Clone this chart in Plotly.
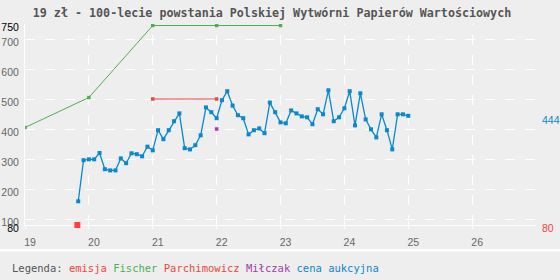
import plotly.graph_objects as go
import pandas as pd

# ---- data ----
title_text = "19 zł - 100-lecie powstania Polskiej Wytwórni Papierów Wartościowych"

emisja_x = [19.82]
emisja_y = [80]

fischer_x = [19, 20, 21, 22, 23]
fischer_y = [405, 505, 745, 745, 745]

parchimowicz_x = [21, 22]
parchimowicz_y = [500, 500]

milczak_x = [22]
milczak_y = [400]

auction_start = "2019-11"
auction_y = [159, 296, 299, 299, 320, 266, 262, 262, 302, 286,
             319, 316, 309, 341, 329, 396, 366, 396, 426, 452,
             336, 332, 346, 379, 472, 456, 436, 496, 526, 478,
             446, 436, 382, 396, 402, 386, 488, 456, 422, 419,
             462, 452, 442, 439, 416, 466, 449, 529, 426, 439,
             469, 526, 412, 519, 432, 399, 372, 449, 396, 332,
             449, 449, 444]

x_ticks = [19, 20, 21, 22, 23, 24, 25, 26]
y_ticks = [80, 100, 200, 300, 400, 500, 600, 700, 750]
y_grid = [100, 200, 300, 400, 500, 600, 700]

# month periods -> decimal (two-digit) years
months = pd.period_range(auction_start, periods=len(auction_y), freq="M")
auction_x = [(p.year - 2000) + (p.month - 1) / 12 for p in months]

C_BLUE = "#0a88cc"
C_GREEN = "#4cb050"
C_RED = "#e8483c"
C_EMI = "#ff4040"
C_PURP = "#a040a8"
BG = "#eeeeee"

fig = go.Figure()
fig.add_trace(go.Scatter(x=fischer_x, y=fischer_y, mode="lines+markers",
                         line=dict(color=C_GREEN, width=1),
                         marker=dict(symbol="square", size=3.5, color=C_GREEN)))
fig.add_trace(go.Scatter(x=parchimowicz_x, y=parchimowicz_y, mode="lines+markers",
                         line=dict(color=C_RED, width=1),
                         marker=dict(symbol="square", size=3.5, color=C_RED)))
fig.add_trace(go.Scatter(x=milczak_x, y=milczak_y, mode="markers",
                         marker=dict(symbol="square", size=3.5, color=C_PURP)))
fig.add_trace(go.Scatter(x=auction_x, y=auction_y, mode="lines+markers",
                         line=dict(color=C_BLUE, width=1.3),
                         marker=dict(symbol="square", size=4, color=C_BLUE)))
fig.add_trace(go.Scatter(x=emisja_x, y=emisja_y, mode="markers", cliponaxis=False,
                         marker=dict(symbol="square", size=6, color=C_EMI)))

tick_font = dict(family="Liberation Sans", size=10.5, color="#666666")
y_ticktext = []
for v in y_ticks:
    if v in (80, 750):
        y_ticktext.append('<span style="color:#000000">%d</span>' % v)
    else:
        y_ticktext.append(str(v))

fig.update_layout(
    width=560, height=280,
    margin=dict(l=25, r=24, t=24, b=55),
    paper_bgcolor=BG, plot_bgcolor=BG,
    showlegend=False,
    title=dict(text=title_text, xref="container", yref="container",
               x=272 / 560, y=1 - 13 / 280, xanchor="center", yanchor="middle",
               font=dict(family="DejaVu Sans Mono", size=11.7, color="#555555",
                         weight="bold")),
    xaxis=dict(range=[19, 27], tickvals=x_ticks, ticktext=[str(t) for t in x_ticks],
               automargin=False, layer="below traces",
               showgrid=True, gridcolor="white", gridwidth=1, griddash="1px,10px,9px,0px",
               showline=True, linecolor="white", linewidth=1, zeroline=False,
               ticks="outside", ticklen=3, tickcolor="white",
               ticklabelshift=5, ticklabelstandoff=4, tickfont=tick_font),
    yaxis=dict(range=[80, 750], tickvals=y_ticks, ticktext=y_ticktext,
               automargin=False, layer="below traces",
               showgrid=False, zeroline=False,
               showline=True, linecolor="white", linewidth=1,
               ticks="", ticklabelshift=3, ticklabelstandoff=3, tickfont=tick_font,
               minor=dict(tickvals=y_grid, showgrid=True, gridcolor="white",
                          gridwidth=1, griddash="10px,10px", ticks="")),
)

# right side labels
fig.add_annotation(xref="paper", yref="y", x=1, y=auction_y[-1], xanchor="left",
                   yanchor="middle", xshift=4, yshift=-4, showarrow=False,
                   text=str(auction_y[-1]),
                   font=dict(family="Liberation Sans", size=10.5, color=C_BLUE))
fig.add_annotation(xref="paper", yref="y", x=1, y=emisja_y[0], xanchor="left",
                   yanchor="middle", xshift=4, yshift=-3, showarrow=False,
                   text=str(emisja_y[0]),
                   font=dict(family="Liberation Sans", size=10.5, color=C_EMI))

# separator line
fig.add_shape(type="line", xref="paper", yref="paper",
              x0=-25 / 511, x1=1 + 24 / 511, y0=-25.3 / 201, y1=-25.3 / 201,
              line=dict(color="white", width=2))

legend_html = ('Legenda: <span style="color:%s">emisja</span> '
               '<span style="color:%s">Fischer</span> '
               '<span style="color:%s">Parchimowicz</span> '
               '<span style="color:%s">Miłczak</span> '
               '<span style="color:%s">cena aukcyjna</span>') % (C_EMI, C_GREEN, C_RED, C_PURP, C_BLUE)
fig.add_annotation(xref="paper", yref="paper", x=(9.6 - 25) / 511, y=-42.7 / 201,
                   xanchor="left", yanchor="middle", showarrow=False, text=legend_html,
                   font=dict(family="DejaVu Sans Mono", size=10.5, color="#555555"))

fig.write_html("out.html")
